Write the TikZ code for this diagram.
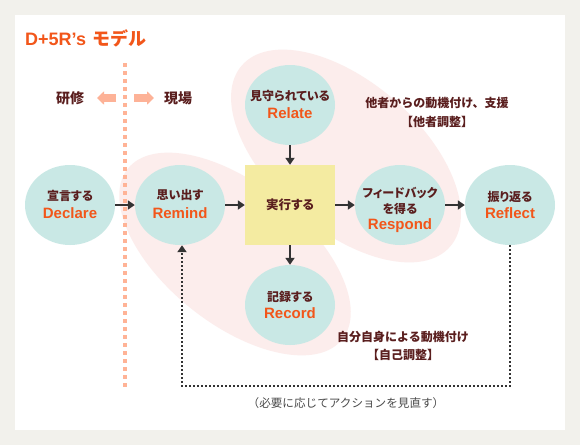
\documentclass[tikz,border=0pt]{standalone}
\usepackage{fontspec}
\newfontfamily\jp{Noto Sans CJK JP}
\newfontfamily\jpp{Noto Sans CJK JP}[RawFeature=+palt]
\newfontfamily\lat{Liberation Sans}
\usetikzlibrary{shapes.geometric,arrows.meta}
\definecolor{bggray}{HTML}{F2F1EC}
\definecolor{circfill}{HTML}{C9E8E5}
\definecolor{boxyellow}{HTML}{F4EBA1}
\definecolor{blobpink}{HTML}{FCEDEC}
\definecolor{jptext}{HTML}{5A1E1E}
\definecolor{orangetxt}{HTML}{F2561A}
\definecolor{dotorange}{HTML}{FFB396}
\definecolor{pinkarrow}{HTML}{FDB297}
\definecolor{arrowdark}{HTML}{333333}
\definecolor{notegray}{HTML}{4A4A4A}
\tikzset{
  circ/.style={ellipse, fill=circfill, minimum width=90pt, minimum height=80pt, inner sep=0pt},
  jpl/.style={font=\jpp\bfseries\fontsize{12}{14}\selectfont, text=jptext, inner sep=0pt},
  enl/.style={font=\lat\bfseries\fontsize{15}{17}\selectfont, text=orangetxt, inner sep=0pt, text height=11pt, text depth=0pt},
  sidel/.style={font=\jp\bfseries\fontsize{12}{14}\selectfont, text=jptext, inner sep=0pt},
  notel/.style={font=\jp\fontsize{11.6}{13}\selectfont, text=notegray, inner sep=0pt},
  arr/.style={draw=arrowdark, line width=2pt, -{Triangle[length=7pt,width=9pt]}},
  fbdots/.style={draw=arrowdark, line width=2pt, dash pattern=on 2pt off 2pt, -{Triangle[length=7pt,width=9pt]}},
  orangedots/.style={draw=dotorange, line width=4pt, dash pattern=on 4pt off 4pt},
  pinkarr/.style={draw=pinkarrow, line width=8pt, -{Triangle[length=7pt,width=13pt]}},
  sidejp/.style={font=\jp\bfseries\fontsize{14}{16}\selectfont, text=jptext, inner sep=0pt},
}
\begin{document}
\begin{tikzpicture}[x=1pt,y=-1pt]
\useasboundingbox (0,0) rectangle (580,445);
\fill[bggray] (0,0) rectangle (580,445);
\fill[white] (15,15) rectangle (565,430);
% pink blobs
\fill[blobpink, rotate around={-41:(346,156)}] (346,156) ellipse [x radius=138pt, y radius=74pt];
\fill[blobpink, rotate around={-38.5:(235,254)}] (235,254) ellipse [x radius=137pt, y radius=70pt];
% title
\node[anchor=west, inner sep=0pt, text=orangetxt, font=\bfseries\fontsize{18}{20}\selectfont] (title) at (25,38.5) {{\lat D+5R’s} {\jp モデル}};
% orange dotted divider
\coordinate (v1) at (125,63);
\coordinate (v2) at (125,387);
\draw[orangedots] (v1) -- (v2);
% training / field
\node[sidejp] (ken) at (70,98) {研修};
\node[sidejp] (gen) at (178,98) {現場};
\coordinate (la1) at (116,98);
\coordinate (la2) at (97,98);
\coordinate (ra1) at (134,98);
\coordinate (ra2) at (154,98);
\draw[pinkarr] (la1) -- (la2);
\draw[pinkarr] (ra1) -- (ra2);
% nodes
\node[circ] (D) at (70,205) {};
\node[circ] (Rm) at (180,205) {};
\node[circ] (Rl) at (290,105) {};
\node[circ] (Rs) at (400,205) {};
\node[circ] (Rf) at (510,205) {};
\node[circ] (Rc) at (290,305) {};
\node[fill=boxyellow, minimum width=90pt, minimum height=80pt, inner sep=0pt, font=\jpp\bfseries\fontsize{12.5}{14}\selectfont, text=jptext] (B) at (290,205) {実行する};
% labels
\node[jpl] (Dj) at (70,195.5) {宣言する};
\node[enl] (De) at (70,213) {Declare};
\node[jpl] (Rmj) at (180,195.5) {思い出す};
\node[enl] (Rme) at (180,213) {Remind};
\node[jpl] (Rlj) at (290,96) {見守られている};
\node[enl] (Rle) at (290,113) {Relate};
\node[jpl] (Rcj) at (290,296.5) {記録する};
\node[enl] (Rce) at (290,313) {Record};
\node[jpl] (Rsj1) at (400,193) {フィードバック};
\node[jpl] (Rsj2) at (400,209) {を得る};
\node[enl] (Rse) at (400,224) {Respond};
\node[jpl] (Rfj) at (510,196.5) {振り返る};
\node[enl] (Rfe) at (510,213) {Reflect};
% side texts
\node[sidel] (T1) at (437,103) {他者からの動機付け、支援};
\node[sidel] (T2) at (437,122) {【他者調整】};
\node[sidel] (T3) at (403,337) {自分自身による動機付け};
\node[sidel] (T4) at (403,355) {【自己調整】};
\node[notel] (N) at (346,403) {（必要に応じてアクションを見直す）};
% arrows
\draw[arr] (D) -- (Rm);
\draw[arr] (Rm) -- (B);
\draw[arr] (B) -- (Rs);
\draw[arr] (Rs) -- (Rf);
\draw[arr] (Rl) -- (B);
\draw[arr] (B) -- (Rc);
% feedback loop
\coordinate (f1) at (510,386);
\coordinate (f2) at (182,386);
\draw[fbdots] (Rf.south) -- (f1) -- (f2) -- (f2 |- Rm.south);
\end{tikzpicture}
\end{document}
